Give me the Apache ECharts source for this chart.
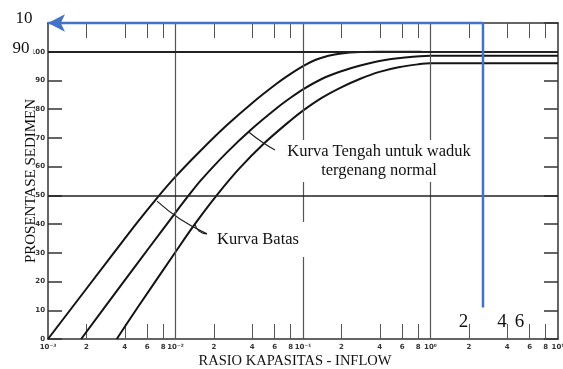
<!DOCTYPE html>
<html>
<head>
<meta charset="utf-8">
<script src="https://cdn.jsdelivr.net/npm/echarts@6/dist/echarts.min.js"></script>
<style>html,body{margin:0;padding:0;background:#fff}#c{width:563px;height:369px}</style>
</head>
<body>
<div id="c"></div>
<script>
// ---- data ----
const upperX = [0.001, 0.00316, 0.005, 0.00708, 0.01, 0.01585, 0.0251, 0.0398, 0.0631, 0.0794, 0.1, 0.1259, 0.1585, 0.1995, 0.2818, 0.398, 0.85];
const upperY = [0, 29, 40.5, 48.8, 56.5, 65.7, 74.3, 82.1, 89.1, 92.2, 95.0, 97.2, 98.6, 99.4, 99.9, 100, 100];
const middleX = [0.00182, 0.00398, 0.00631, 0.01, 0.01259, 0.01585, 0.0251, 0.0398, 0.0631, 0.0794, 0.1, 0.1413, 0.1995, 0.2818, 0.398, 0.631, 1, 10];
const middleY = [0, 20.3, 32.2, 44.0, 49.8, 55.3, 64.8, 73.2, 80.6, 83.9, 86.9, 90.6, 93.2, 95.2, 96.8, 98.0, 98.6, 98.6];
const lowerX = [0.00346, 0.005, 0.01, 0.01413, 0.02104, 0.0316, 0.0501, 0.0794, 0.1, 0.1413, 0.1995, 0.2818, 0.398, 0.5623, 0.7943, 1, 10];
const lowerY = [0, 10.7, 30.3, 39.9, 50.0, 59.3, 68.3, 76.0, 79.5, 84.0, 87.6, 90.6, 93.0, 94.6, 95.6, 96.0, 96.0];
const xTickValues = [0.002, 0.004, 0.006, 0.008, 0.02, 0.04, 0.06, 0.08, 0.2, 0.4, 0.6, 0.8, 2, 4, 6, 8];
const xLabelValues = [0.001, 0.002, 0.004, 0.006, 0.008, 0.01, 0.02, 0.04, 0.06, 0.08, 0.1, 0.2, 0.4, 0.6, 0.8, 1, 2, 4, 6, 8, 10];
const decadeLines = [0.01, 0.1, 1];
const levelLines = [50, 100];
const blueX = [2.58, 2.58, 0.001];
const blueY = [11, 110, 110];
const pointerTengahX = [0.0377, 0.0477, 0.0603];
const pointerTengahY = [72.0, 68.6, 65.8];
const pointerBatas1X = [0.00716, 0.01084, 0.01766];
const pointerBatas1Y = [48.0, 41.8, 36.6];
const pointerBatas2X = [0.01422, 0.01528, 0.01766];
const pointerBatas2Y = [40.0, 37.6, 36.6];

// ---- chart ----
const L = v => Math.log10(v);
const pts = (xs, ys) => xs.map((x, i) => [L(x), ys[i]]);
const sup = {'-': '⁻', '0': '⁰', '1': '¹', '2': '²', '3': '³'};
function xLabel(v) {
  const e = Math.floor(v + 1e-9);
  const m = Math.round(Math.pow(10, v - e));
  if (m === 1 || m === 10) {
    const ee = m === 10 ? e + 1 : e;
    return '10' + String(ee).split('').map(c => sup[c]).join('');
  }
  return String(m);
}
const chart = echarts.init(document.getElementById('c'), null, {renderer: 'canvas'});
const curveStyle = {color: '#141414', width: 2};
const ptrStyle = {color: '#222', width: 1.2};
chart.setOption({
  animation: false,
  backgroundColor: '#fff',
  grid: {left: 48, top: 23, width: 510, height: 316, containLabel: false, outerBoundsMode: 'none'},
  xAxis: [{
    type: 'value', min: -3, max: 1, position: 'bottom',
    axisLine: {show: true, onZero: false, lineStyle: {color: '#333', width: 1.5}},
    axisTick: {show: true, inside: true, length: 15, customValues: xTickValues.map(L), lineStyle: {color: '#555', width: 1}},
    axisLabel: {show: true, customValues: xLabelValues.map(L), formatter: xLabel, fontSize: 7, color: '#333', margin: 5, fontFamily: 'DejaVu Sans', fontWeight: 'bold'},
    splitLine: {show: false}
  }, {
    type: 'value', min: -3, max: 1, position: 'top',
    axisLine: {show: true, onZero: false, lineStyle: {color: '#333', width: 1.5}},
    axisTick: {show: true, inside: true, length: 15, customValues: xTickValues.map(L), lineStyle: {color: '#555', width: 1}},
    axisLabel: {show: false},
    splitLine: {show: false}
  }],
  yAxis: [{
    type: 'value', min: 0, max: 110, interval: 10, position: 'left',
    axisLine: {show: true, onZero: false, lineStyle: {color: '#333', width: 1.5}},
    axisTick: {show: true, inside: true, length: 14, lineStyle: {color: '#333', width: 1.5}},
    axisLabel: {formatter: v => v === 110 ? '' : String(v), fontSize: 7, color: '#333', margin: 3, fontFamily: 'DejaVu Sans', fontWeight: 'bold'},
    splitLine: {show: false}
  }, {
    type: 'value', min: 0, max: 110, interval: 10, position: 'right',
    axisLine: {show: true, onZero: false, lineStyle: {color: '#333', width: 1.5}},
    axisTick: {show: true, inside: true, length: 14, lineStyle: {color: '#333', width: 1.5}},
    axisLabel: {show: false},
    splitLine: {show: false}
  }],
  series: [
    {type: 'line', data: [], silent: true,
     markLine: {silent: true, symbol: 'none', label: {show: false},
       data: decadeLines.map(v => ({xAxis: L(v), lineStyle: {color: '#555', width: 1.2, type: 'solid'}}))
         .concat(levelLines.map(v => ({yAxis: v, lineStyle: {color: '#222', width: v === 100 ? 2 : 1.5, type: 'solid'}})))}},
    {type: 'line', data: pts(upperX, upperY), showSymbol: false, smooth: 0.3, lineStyle: curveStyle, silent: true},
    {type: 'line', data: pts(middleX, middleY), showSymbol: false, smooth: 0.3, lineStyle: curveStyle, silent: true},
    {type: 'line', data: pts(lowerX, lowerY), showSymbol: false, smooth: 0.3, lineStyle: curveStyle, silent: true},
    {type: 'line', data: pts(pointerTengahX, pointerTengahY), showSymbol: false, smooth: true, lineStyle: ptrStyle, silent: true},
    {type: 'line', data: pts(pointerBatas1X, pointerBatas1Y), showSymbol: false, smooth: true, lineStyle: ptrStyle, silent: true},
    {type: 'line', data: pts(pointerBatas2X, pointerBatas2Y), showSymbol: false, smooth: true, lineStyle: ptrStyle, silent: true},
    {type: 'line', clip: false, silent: true, z: 5, symbol: 'none', showAllSymbol: true,
     lineStyle: {color: '#4472C4', width: 2.5}, itemStyle: {color: '#4472C4'},
     data: pts(blueX, blueY).map((p, i) => i === blueX.length - 1
        ? {value: p, symbol: 'arrow', symbolSize: [13, 17], symbolRotate: 90}
        : {value: p, symbol: 'none'})}
  ],
  graphic: [
    {type: 'rect', z: 100, shape: {x: 281, y: 140, width: 200, height: 42}, style: {fill: '#fff'}},
    {type: 'text', z: 101, x: 379, y: 161, style: {text: 'Kurva Tengah untuk waduk\ntergenang normal', font: '16.5px "Liberation Serif"', fill: '#111', align: 'center', verticalAlign: 'middle', lineHeight: 19}},
    {type: 'rect', z: 100, shape: {x: 209, y: 222, width: 99, height: 35}, style: {fill: '#fff'}},
    {type: 'text', z: 101, x: 258, y: 240, style: {text: 'Kurva Batas', font: '16.5px "Liberation Serif"', fill: '#111', align: 'center', verticalAlign: 'middle'}},
    {type: 'text', z: 101, x: 295, y: 361, style: {text: 'RASIO KAPASITAS - INFLOW', font: '14.5px "Liberation Serif"', fill: '#111', align: 'center', verticalAlign: 'middle'}},
    {type: 'text', z: 101, x: 31, y: 181, rotation: Math.PI / 2, style: {text: 'PROSENTASE SEDIMEN', font: '15px "Liberation Serif"', fill: '#111', align: 'center', verticalAlign: 'middle'}},
    {type: 'text', z: 101, x: 24, y: 19, style: {text: '10', font: '17px "Liberation Serif"', fill: '#111', align: 'center', verticalAlign: 'middle'}},
    {type: 'text', z: 101, x: 22, y: 49, style: {text: '90', font: '17px "Liberation Serif"', fill: '#111', align: 'center', verticalAlign: 'middle', backgroundColor: '#fff', padding: [0, 4, 0, 2]}},
    {type: 'text', z: 101, x: 463.5, y: 322, style: {text: '2', font: '19px "Liberation Serif"', fill: '#111', align: 'center', verticalAlign: 'middle'}},
    {type: 'text', z: 101, x: 502, y: 322, style: {text: '4', font: '19px "Liberation Serif"', fill: '#111', align: 'center', verticalAlign: 'middle'}},
    {type: 'text', z: 101, x: 519.5, y: 322, style: {text: '6', font: '19px "Liberation Serif"', fill: '#111', align: 'center', verticalAlign: 'middle'}}
  ]
});
</script>
</body>
</html>
